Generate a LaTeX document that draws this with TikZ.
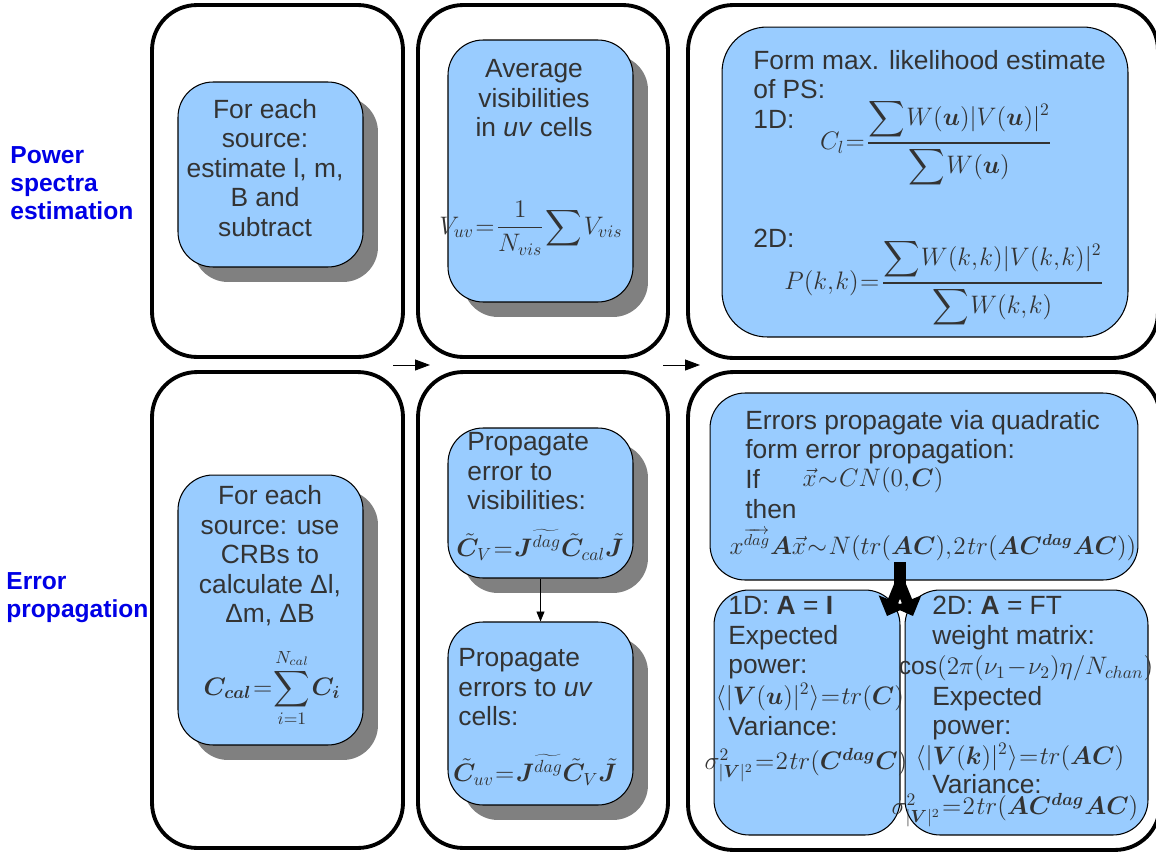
\documentclass[tikz,border=0pt]{standalone}
\usepackage{amsmath}
\usepackage{fontspec}
\setmainfont{Liberation Sans}
\usepackage{bm}
\usetikzlibrary{shadows,arrows.meta}
\definecolor{boxblue}{RGB}{153,204,255}
\definecolor{textgray}{RGB}{51,51,51}
\definecolor{shadowgray}{RGB}{128,128,128}
\definecolor{labelblue}{RGB}{0,0,230}
\newcommand{\tightmath}{\thinmuskip=1mu\medmuskip=1mu\thickmuskip=1mu}
\newcommand{\bigsum}{\displaystyle\sum}
\tikzset{
  panel/.style={draw, line width=2.2pt, rounded corners=0.9cm, fill=white},
  bluebox/.style={draw, line width=0.6pt, rounded corners=0.7cm, fill=boxblue},
  shadowbox/.style={bluebox, drop shadow={shadow xshift=0.3cm, shadow yshift=-0.3cm, fill=shadowgray, opacity=1}},
  boxtext/.style={text=textgray, font=\fontsize{15}{16.8}\selectfont, inner sep=0pt},
  eqn/.style={text=textgray, font=\fontsize{14}{16}\selectfont\tightmath, inner sep=0pt},
  rowlabel/.style={text=labelblue, font=\fontsize{14}{16}\selectfont\bfseries, align=left, inner sep=0pt, anchor=west},
  smallarrow/.style={-{Triangle[length=0.3cm,width=0.22cm]}, line width=0.5pt},
  forkarrow/.style={-{Triangle[length=0.32cm,width=0.6cm]}, line width=0.22cm}
}
\begin{document}
\begin{tikzpicture}[x=0.02cm,y=-0.02cm]
\useasboundingbox (0,0) rectangle (1156,852);
% outer panels
\node[panel, minimum width=5.02cm, minimum height=7.04cm] (p1) at (277.5,181) {};
\node[panel, minimum width=5.0cm, minimum height=7.04cm] (p2) at (543,181) {};
\node[panel, minimum width=9.4cm, minimum height=7.06cm] (p3) at (923,181.5) {};
\node[panel, minimum width=5.02cm, minimum height=9.52cm] (p4) at (277.5,610) {};
\node[panel, minimum width=5.0cm, minimum height=9.52cm] (p5) at (543,610) {};
\node[panel, minimum width=9.44cm, minimum height=9.56cm] (p6) at (924,611) {};

% row labels
\node[rowlabel] (lps) at (10,183) {Power\\spectra\\estimation};
\node[rowlabel] (lep) at (6,598) {Error\\propagation};

% between the rows
\coordinate (a1) at (393,365); \coordinate (a2) at (430,365);
\coordinate (a3) at (663,365); \coordinate (a4) at (700,365);
\draw[smallarrow] (a1) -- (a2);
\draw[smallarrow] (a3) -- (a4);

% power spectra estimation
\node[shadowbox, minimum width=3.7cm, minimum height=3.7cm] (b1) at (270.5,174.5) {};
\node[boxtext, align=center] (t1) at (265,168) {For each\\source:\\estimate l, m,\\B and\\subtract};

\node[shadowbox, minimum width=3.7cm, minimum height=5.24cm] (b2) at (540.5,171) {};
\node[boxtext, align=center, anchor=north] (t2) at (534,59) {Average\\visibilities\\in \textit{uv} cells};
\node[eqn] (e2) at (531,228) {$V_{uv}=\dfrac{1}{N_{vis}}\bigsum V_{vis}$};

\node[bluebox, rounded corners=0.9cm, minimum width=8.12cm, minimum height=6.2cm] (b3) at (925,182) {};
\node[boxtext, align=left, anchor=north west] (t3) at (753,50) {Form max. likelihood estimate\\of PS:\\1D:};
\node[eqn] (e3a) at (936,143) {$C_l=\dfrac{\bigsum W(\bm{u})|V(\bm{u})|^2}{\bigsum W(\bm{u})}$};
\node[boxtext, anchor=west] (t3b) at (753,238) {2D:};
\node[eqn] (e3b) at (944,283) {$P(k,k)=\dfrac{\bigsum W(k,k)|V(k,k)|^2}{\bigsum W(k,k)}$};

% error propagation
\node[shadowbox, minimum width=3.7cm, minimum height=5.4cm] (b4) at (270.5,610) {};
\node[boxtext, align=center] (t4) at (270,556) {For each\\source: use\\CRBs to\\calculate Δl,\\Δm, ΔB};
\node[eqn] (e4) at (272,688) {$\bm{C}_{\bm{cal}}=\displaystyle\sum_{i=1}^{N_{cal}}\bm{C}_{\bm{i}}$};

\node[shadowbox, minimum width=3.7cm, minimum height=3.0cm] (b5) at (540.5,503) {};
\node[boxtext, align=left, anchor=north west] (t5) at (467,432) {Propagate\\error to\\visibilities:};
\node[eqn] (e5) at (540,545) {$\tilde{\bm{C}}_V=\bm{J}^{\widetilde{dag}}\tilde{\bm{C}}_{cal}\tilde{\bm{J}}$};

\node[shadowbox, minimum width=3.7cm, minimum height=3.66cm] (b6) at (540.5,713.5) {};
\node[boxtext, align=left, anchor=north west] (t6) at (458,648) {Propagate\\errors to \textit{uv}\\cells:};
\node[eqn] (e6) at (535,770) {$\tilde{\bm{C}}_{uv}=\bm{J}^{\widetilde{dag}}\tilde{\bm{C}}_V\tilde{\bm{J}}$};

\draw[-{Triangle[length=0.2cm,width=0.16cm]}, line width=0.5pt] (b5.south) -- (b6.north);

\node[bluebox, minimum width=8.56cm, minimum height=3.74cm] (b7) at (924,486.5) {};
\node[boxtext, align=left, anchor=north west] (t7) at (745,410) {Errors propagate via quadratic\\form error propagation:\\If\\then};
\node[eqn] (e7a) at (873,480) {$\vec{x}\sim CN(0,\bm{C})$};
\node[eqn, font=\fontsize{13.5}{16}\selectfont\tightmath] (e7b) at (933,545) {$x^{\overrightarrow{dag}}\bm{A}\vec{x}\sim N(tr(\bm{A}\bm{C}),2\,tr(\bm{A}\bm{C}^{\bm{dag}}\bm{A}\bm{C}))$};

\node[bluebox, minimum width=3.72cm, minimum height=4.9cm] (b8) at (807,712.5) {};
\node[bluebox, minimum width=4.86cm, minimum height=4.9cm] (b9) at (1026.5,712.5) {};

\node[boxtext, align=left, anchor=north west] (t8a) at (728,596) {1D: \textbf{A} = \textbf{I}\\Expected\\power:};
\node[eqn] (e8a) at (810,697) {$\langle|\bm{V}(\bm{u})|^2\rangle=tr(\bm{C})$};
\node[boxtext, anchor=west] (t8b) at (728,726) {Variance:};
\node[eqn] (e8b) at (806,765) {$\sigma^2_{|\bm{V}|^2}=2\,tr(\bm{C}^{\bm{dag}}\bm{C})$};

\node[boxtext, align=left, anchor=north west] (t9a) at (932,596) {2D: \textbf{A} = FT\\weight matrix:};
\node[eqn] (e9a) at (1026,668) {$\cos(2\pi(\nu_1-\nu_2)\eta/N_{chan})$};
\node[boxtext, align=left, anchor=north west] (t9b) at (932,686) {Expected\\power:};
\node[eqn] (e9b) at (1020,757) {$\langle|\bm{V}(\bm{k})|^2\rangle=tr(\bm{A}\bm{C})$};
\node[boxtext, anchor=west] (t9c) at (932,784) {Variance:};
\node[eqn] (e9c) at (1015,810) {$\sigma^2_{|\bm{V}|^2}=2\,tr(\bm{A}\bm{C}^{\bm{dag}}\bm{A}\bm{C})$};

% fork from b7 into b8 and b9
\coordinate (fork) at (900,584);
\fill (894,562) rectangle (906,588);
\draw[forkarrow] (fork) -- ++(-13,32);
\draw[forkarrow] (fork) -- ++(13,32);
\end{tikzpicture}
\end{document}
